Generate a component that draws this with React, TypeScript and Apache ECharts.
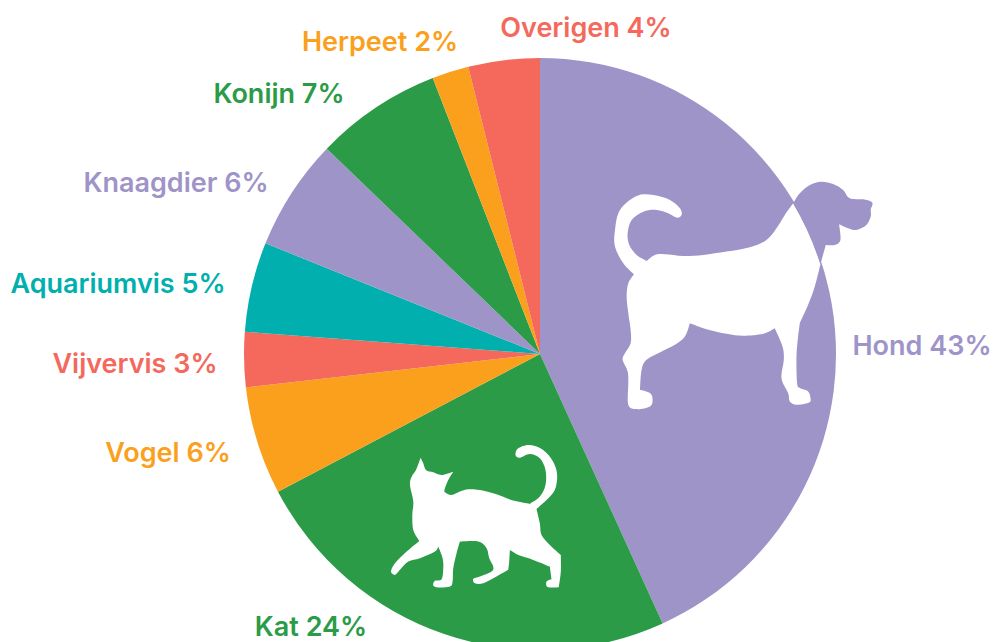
import React, { useEffect, useRef } from "react";
import * as echarts from "echarts";

const categories = ["Hond", "Kat", "Vogel", "Vijvervis", "Aquariumvis", "Knaagdier", "Konijn", "Herpeet", "Overigen"];
const values = [43.2, 24.1, 5.9, 3.0, 4.9, 6.1, 6.9, 2.0, 3.9];
const shown = [43, 24, 6, 3, 5, 6, 7, 2, 4];
const colors = ["#9F94C8", "#2B9B48", "#FBA01D", "#F4695C", "#00AFAE", "#9F94C8", "#2B9B48", "#FBA01D", "#F4695C"];
const labelCenters: [number, number][] = [
  [922, 345], [311, 626], [168, 452], [135, 363], [118, 283], [176, 182], [279, 93], [380, 41], [586, 27],
];

type P = [number, number];
// Catmull-Rom through the points, without the leading M
function smooth(pts: P[]): string {
  let d = "";
  for (let i = 0; i < pts.length - 1; i++) {
    const p0 = pts[Math.max(i - 1, 0)];
    const p1 = pts[i];
    const p2 = pts[i + 1];
    const p3 = pts[Math.min(i + 2, pts.length - 1)];
    const c1x = p1[0] + (p2[0] - p0[0]) / 6;
    const c1y = p1[1] + (p2[1] - p0[1]) / 6;
    const c2x = p2[0] - (p3[0] - p1[0]) / 6;
    const c2y = p2[1] - (p3[1] - p1[1]) / 6;
    d += `C${c1x} ${c1y} ${c2x} ${c2y} ${p2[0]} ${p2[1]}`;
  }
  return d;
}

const dogBody =
  "M580 100A888 888 0 0 1 662 283" +
  smooth([[662, 283], [645, 350], [625, 405], [600, 460]]) +
  smooth([[600, 460], [595, 500], [590, 560], [592, 640], [600, 655], [625, 665], [632, 685], [628, 698], [590, 705], [570, 695], [565, 670], [545, 625], [552, 570], [548, 530], [525, 475]]) +
  smooth([[525, 475], [490, 492], [430, 498], [380, 492], [320, 478], [270, 460]]) +
  smooth([[270, 460], [255, 500], [225, 525], [185, 545], [140, 570], [125, 600], [120, 660]]) +
  smooth([[120, 660], [150, 670], [158, 690], [150, 710], [110, 718], [85, 705], [85, 640], [83, 605], [68, 570], [75, 550], [92, 520], [92, 480], [85, 430], [80, 380], [85, 340], [102, 313]]) +
  smooth([[102, 313], [70, 280], [45, 230], [45, 180], [60, 120], [110, 78], [160, 75], [210, 90], [240, 115], [245, 135], [230, 143], [205, 130], [170, 120], [130, 125], [95, 150], [83, 190], [88, 225], [110, 255], [140, 273]]) +
  smooth([[140, 273], [165, 255], [195, 253], [250, 258], [310, 255], [380, 245], [450, 232], [500, 210], [530, 175], [555, 135], [580, 100]]) +
  "Z";

const dogHead =
  "M580 100" +
  smooth([[580, 100], [600, 70], [630, 45], [665, 35], [700, 42], [730, 60], [750, 85], [790, 88], [815, 95], [818, 105], [813, 118], [813, 140], [800, 165], [770, 180], [745, 175], [718, 163]]) +
  smooth([[718, 163], [722, 210], [705, 225], [678, 225]]) +
  "L662 283A888 888 0 0 0 580 100Z";

const catBody =
  "M122 68" +
  smooth([[122, 68], [130, 85], [138, 105], [160, 112], [185, 120], [220, 110]]) +
  smooth([[220, 110], [205, 135], [195, 160], [195, 172], [215, 180], [240, 170], [265, 163], [300, 165], [350, 178], [400, 197], [450, 207]]) +
  smooth([[450, 207], [480, 185], [497, 150], [497, 105], [480, 70], [450, 57], [420, 68], [407, 60], [415, 40], [450, 30], [490, 45], [520, 80], [532, 120], [525, 165], [500, 195], [470, 222]]) +
  smooth([[470, 222], [480, 265], [485, 300], [510, 330], [543, 360]]) +
  smooth([[543, 360], [543, 410], [537, 457]]) +
  smooth([[537, 457], [520, 458], [502, 456], [500, 440], [515, 433]]) +
  smooth([[515, 433], [510, 395]]) +
  smooth([[510, 395], [460, 375], [420, 362], [390, 345]]) +
  smooth([[390, 345], [388, 380], [385, 405]]) +
  smooth([[385, 405], [350, 425], [310, 445], [285, 445], [280, 432], [300, 425], [335, 410], [340, 395], [328, 370], [320, 340], [295, 320], [240, 320]]) +
  smooth([[240, 320], [230, 355], [220, 400], [218, 440], [210, 455], [175, 458], [160, 452], [165, 438], [185, 433], [190, 400], [188, 370], [175, 335]]) +
  smooth([[175, 335], [165, 350], [120, 370], [85, 380], [60, 405], [45, 420], [33, 410], [45, 385], [80, 350], [118, 318]]) +
  smooth([[118, 318], [100, 285], [97, 240], [100, 200], [90, 150], [95, 125], [108, 105], [122, 68]]) +
  "Z";

echarts.graphic.registerShape("dogBody", echarts.graphic.extendPath(dogBody, {}));
echarts.graphic.registerShape("dogHead", echarts.graphic.extendPath(dogHead, {}));
echarts.graphic.registerShape("catBody", echarts.graphic.extendPath(catBody, {}));

export default function App() {
  const ref = useRef<HTMLDivElement>(null);
  useEffect(() => {
    const chart = echarts.init(ref.current!, undefined, { renderer: "svg" });
    chart.setOption({
      animation: false,
      backgroundColor: "#ffffff",
      series: [
        {
          type: "pie",
          center: [540, 354],
          radius: [0, 296],
          startAngle: 90,
          clockwise: true,
          silent: true,
          avoidLabelOverlap: false,
          data: categories.map((name, i) => ({
            name,
            value: values[i],
            itemStyle: { color: colors[i] },
            label: { color: colors[i] },
          })),
          label: {
            show: true,
            position: "outside",
            formatter: (p: any) => `${p.name} ${shown[p.dataIndex]}%`,
            fontFamily: "Inter",
            fontWeight: 600,
            fontSize: 27,
          },
          labelLine: { show: false },
          labelLayout: (p: any) => ({
            x: labelCenters[p.dataIndex][0],
            y: labelCenters[p.dataIndex][1],
            align: "center",
            verticalAlign: "middle",
            hideOverlap: false,
          }),
        },
      ],
      graphic: [
        { type: "dogBody", x: 600, y: 170, scaleX: 1 / 3, scaleY: 1 / 3, z: 100, silent: true, style: { fill: "#ffffff" } },
        { type: "dogHead", x: 600, y: 170, scaleX: 1 / 3, scaleY: 1 / 3, z: 100, silent: true, style: { fill: "#9F94C8" } },
        { type: "catBody", x: 380, y: 435, scaleX: 1 / 3, scaleY: 1 / 3, z: 100, silent: true, style: { fill: "#ffffff" } },
      ],
    });
    return () => chart.dispose();
  }, []);
  return <div ref={ref} style={{ position: "absolute", left: 0, top: 0, width: 993, height: 642 }} />;
}
